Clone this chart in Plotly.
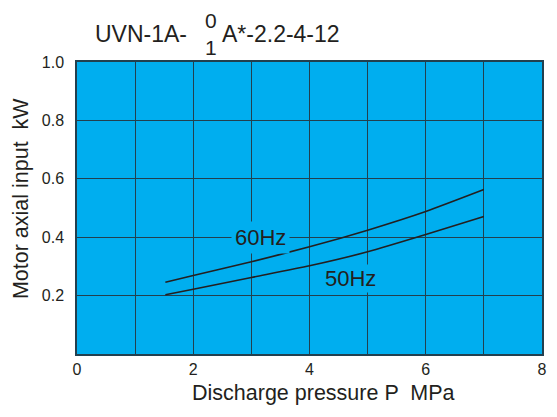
import plotly.graph_objects as go

# Data
pressure_60 = [1.52, 2.0, 3.0, 4.0, 5.0, 6.0, 7.0]
power_60 = [0.246, 0.269, 0.316, 0.367, 0.424, 0.488, 0.563]
pressure_50 = [1.52, 2.0, 3.0, 4.0, 5.0, 6.0, 7.0]
power_50 = [0.203, 0.222, 0.262, 0.302, 0.350, 0.409, 0.471]

x_ticks = [0, 2, 4, 6, 8]
y_ticks = [0.2, 0.4, 0.6, 0.8, 1.0]
y_tick_labels = ["0.2", "0.4", "0.6", "0.8", "1.0"]

BG = "#00AEEF"
GRID = "#22404f"
TXT = "#231f20"
FONT = "Liberation Sans, Arial, Helvetica, sans-serif"

fig = go.Figure()
fig.add_trace(go.Scatter(x=pressure_60, y=power_60, mode="lines",
                         line=dict(color=TXT, width=1.6, shape="spline", smoothing=0.6),
                         showlegend=False, hoverinfo="skip"))
fig.add_trace(go.Scatter(x=pressure_50, y=power_50, mode="lines",
                         line=dict(color=TXT, width=1.6, shape="spline", smoothing=0.6),
                         showlegend=False, hoverinfo="skip"))

L, R, T, B = 77, 10, 62, 63
W, H = 557, 417
pw, ph = W - L - R, H - T - B


def px(x):
    return (x - L) / pw


def py(y):
    return (H - B - y) / ph


ann = []
tf = dict(family=FONT, size=23, color=TXT)
ann.append(dict(text="UVN-1A-", x=px(93), y=py(34), xref="paper", yref="paper",
                xanchor="left", yanchor="middle", showarrow=False, font=tf))
ann.append(dict(text="0<br>1", x=px(212.5), y=py(34), xref="paper", yref="paper",
                xanchor="center", yanchor="middle", showarrow=False,
                font=dict(family=FONT, size=21, color=TXT), borderpad=0))
ann.append(dict(text="A*-2.2-4-12", x=px(222), y=py(34), xref="paper", yref="paper",
                xanchor="left", yanchor="middle", showarrow=False, font=tf))

af = dict(family=FONT, size=21.5, color=TXT)
ann.append(dict(text="Discharge pressure P  MPa", x=px(326), y=py(393),
                xref="paper", yref="paper", xanchor="center", yanchor="middle",
                showarrow=False, font=af))
ann.append(dict(text="Motor axial input  kW", x=px(20), y=py(198.5), textangle=-90,
                xref="paper", yref="paper", xanchor="center", yanchor="middle",
                showarrow=False, font=af))

lf = dict(family=FONT, size=22, color=TXT)
ann.append(dict(text="60Hz", x=3.16, y=0.4, xref="x", yref="y", showarrow=False,
                font=lf, bgcolor=BG, borderpad=3))
ann.append(dict(text="50Hz", x=4.71, y=0.257, xref="x", yref="y", showarrow=False,
                font=lf, bgcolor=BG, borderpad=1))

fig.update_layout(
    width=W, height=H,
    margin=dict(l=L, r=R, t=T, b=B),
    paper_bgcolor="white", plot_bgcolor=BG,
    font=dict(family=FONT, color=TXT),
    annotations=ann,
    xaxis=dict(range=[0, 8], tickvals=x_ticks, ticktext=[str(v) for v in x_ticks],
               showgrid=True, gridcolor=GRID, gridwidth=1.3,
               minor=dict(dtick=1, tick0=0, showgrid=True, gridcolor=GRID, gridwidth=1.3),
               showline=True, linecolor=GRID, linewidth=1.5, mirror=True,
               zeroline=False, ticks="", ticklabelstandoff=0,
               tickfont=dict(family=FONT, size=16, color=TXT)),
    yaxis=dict(range=[0, 1.0], tickvals=y_ticks, ticktext=y_tick_labels,
               showgrid=True, gridcolor=GRID, gridwidth=1.3,
               showline=True, linecolor=GRID, linewidth=1.5, mirror=True,
               zeroline=False, ticks="", ticklabelstandoff=8,
               tickfont=dict(family=FONT, size=16, color=TXT)),
)

fig.write_html("out.html", config={"displayModeBar": False},
               post_script="document.body.style.margin='0';document.body.style.padding='0';")
